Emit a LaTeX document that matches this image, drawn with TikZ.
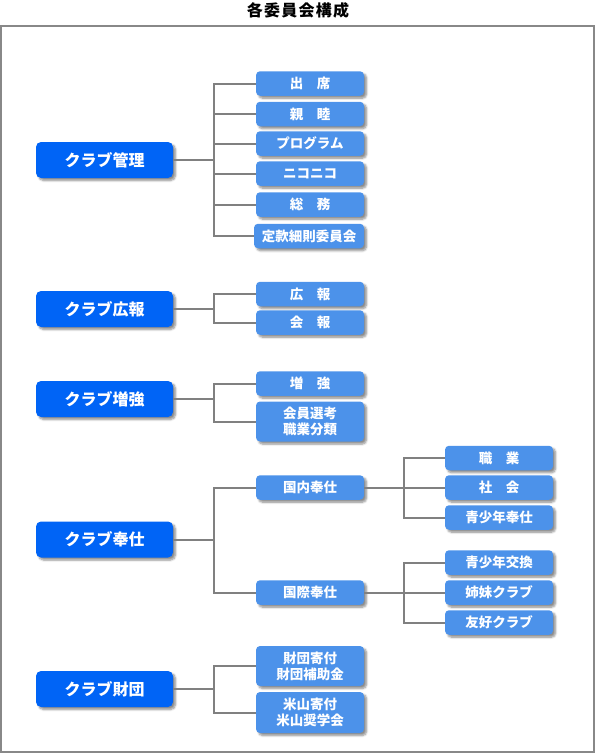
\documentclass[tikz,border=0pt]{standalone}
\usepackage{fontspec}
\setmainfont{Noto Sans CJK JP}
\newfontfamily\titlefont[LetterSpace=8]{Noto Sans CJK JP}
\usetikzlibrary{shadows.blur}
\definecolor{mainblue}{RGB}{0,100,246}
\definecolor{subblue}{RGB}{76,146,234}
\definecolor{linegray}{RGB}{128,128,128}
\definecolor{framegray}{RGB}{136,136,136}
\tikzset{
  boxshadow/.style={blur shadow={shadow xshift=2.5pt, shadow yshift=-2.5pt, shadow blur steps=6, shadow blur radius=2pt, shadow opacity=45}},
  mainbox/.style={draw=none, fill=mainblue, rounded corners=5pt, minimum width=137pt, minimum height=36pt, text=white, font=\fontsize{16}{19}\selectfont\bfseries, inner sep=0pt, boxshadow},
  subbox/.style={draw=none, fill=subblue, rounded corners=4pt, minimum width=108pt, minimum height=24.5pt, text=white, font=\fontsize{13.5}{16}\selectfont\bfseries, inner sep=0pt, align=center, boxshadow},
  conn/.style={draw=linegray, line width=2pt},
}
\begin{document}
\begin{tikzpicture}[x=1pt,y=-1pt]
\useasboundingbox (0,0) rectangle (595,753);
\node[font=\titlefont\fontsize{16}{19}\selectfont\bfseries, anchor=center] (title) at (298,10.5) {各委員会構成};
\draw[draw=framegray, line width=2pt] (1,26) rectangle (593.5,752);

% ---- クラブ管理
\node[mainbox] (m1) at (104.5,160) {クラブ管理};
\coordinate (j1) at (214,160);
\node[subbox] (a1) at (310,83.5) {出　席};
\node[subbox] (a2) at (310,114) {親　睦};
\node[subbox] (a3) at (310,143.5) {プログラム};
\node[subbox] (a4) at (310,173.5) {ニコニコ};
\node[subbox] (a5) at (310,204.5) {総　務};
\node[subbox, minimum width=110pt] (a6) at (309,236) {定款細則委員会};
\draw[conn] (m1.east) -- (j1);
\foreach \n in {a1,a2,a3,a4,a5,a6} \draw[conn] (\n.west) -| (j1);

% ---- クラブ広報
\node[mainbox] (m2) at (104.5,309) {クラブ広報};
\coordinate (j2) at (214,309);
\node[subbox] (b1) at (310,294) {広　報};
\node[subbox] (b2) at (310,322.5) {会　報};
\draw[conn] (m2.east) -- (j2);
\foreach \n in {b1,b2} \draw[conn] (\n.west) -| (j2);

% ---- クラブ増強
\node[mainbox] (m3) at (104.5,399) {クラブ増強};
\coordinate (j3) at (214,399);
\node[subbox] (c1) at (310,383.5) {増　強};
\node[subbox, minimum height=40pt] (c2) at (310,421.5) {会員選考\\職業分類};
\draw[conn] (m3.east) -- (j3);
\foreach \n in {c1,c2} \draw[conn] (\n.west) -| (j3);

% ---- クラブ奉仕
\node[mainbox] (m4) at (104.5,539.5) {クラブ奉仕};
\coordinate (j4) at (214,539.5);
\node[subbox] (d1) at (310,487.5) {国内奉仕};
\node[subbox] (d2) at (310,592.5) {国際奉仕};
\draw[conn] (m4.east) -- (j4);
\foreach \n in {d1,d2} \draw[conn] (\n.west) -| (j4);

\coordinate (k1) at (404,487.5);
\node[subbox] (e1) at (499,458) {職　業};
\node[subbox] (e2) at (499,487.5) {社　会};
\node[subbox] (e3) at (499,517.5) {青少年奉仕};
\draw[conn] (d1.east) -- (k1);
\foreach \n in {e1,e2,e3} \draw[conn] (\n.west) -| (k1);

\coordinate (k2) at (404,592.5);
\node[subbox] (f1) at (499,562.5) {青少年交換};
\node[subbox] (f2) at (499,592.5) {姉妹クラブ};
\node[subbox] (f3) at (499,622.5) {友好クラブ};
\draw[conn] (d2.east) -- (k2);
\foreach \n in {f1,f2,f3} \draw[conn] (\n.west) -| (k2);

% ---- クラブ財団
\node[mainbox] (m5) at (104.5,689) {クラブ財団};
\coordinate (j5) at (214,689);
\node[subbox, minimum height=40pt] (g1) at (310,666) {財団寄付\\財団補助金};
\node[subbox, minimum height=41pt] (g2) at (310,712.5) {米山寄付\\米山奨学会};
\draw[conn] (m5.east) -- (j5);
\foreach \n in {g1,g2} \draw[conn] (\n.west) -| (j5);
\end{tikzpicture}
\end{document}
